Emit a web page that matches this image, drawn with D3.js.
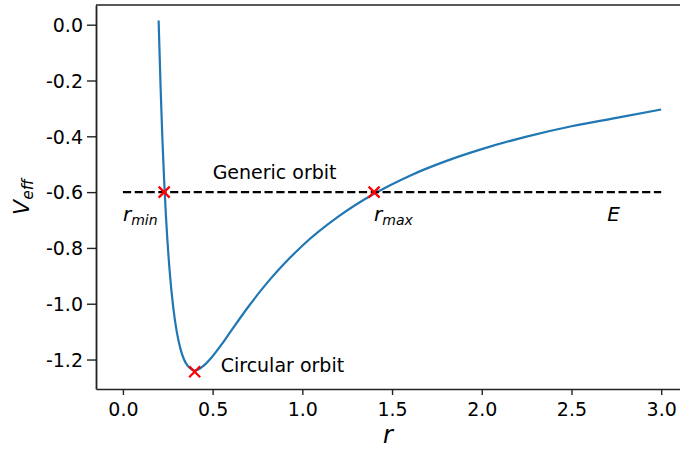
<!DOCTYPE html>
<html><head><meta charset="utf-8">
<script src="https://cdn.jsdelivr.net/npm/d3@7"></script>
<style>
html,body{margin:0;padding:0;background:#fff;}
svg{display:block;font-family:"DejaVu Sans",sans-serif;}
</style></head>
<body><svg id="c" width="680" height="449"></svg>
<script>
// effective potential curve
const rValues = [0.199,0.21,0.22,0.23,0.24,0.26,0.28,0.30,0.32,0.34,0.36,0.38,0.40,0.42,0.45,0.50,0.55,0.60,0.70,0.80,0.90,1.00,1.20,1.40,1.60,1.80,2.00,2.25,2.50,2.75,3.00];
const vValues = [0.015,-0.224,-0.409,-0.561,-0.688,-0.879,-1.010,-1.100,-1.160,-1.199,-1.222,-1.234,-1.240,-1.236,-1.222,-1.188,-1.146,-1.100,-1.010,-0.928,-0.856,-0.792,-0.688,-0.606,-0.541,-0.489,-0.446,-0.401,-0.364,-0.334,-0.304];
// energy level line
const energyR = [0.0, 3.0];
const energyV = [-0.6, -0.6];
// marked points
const markR = [0.23, 1.40, 0.40];
const markV = [-0.6, -0.6, -1.244];
// ticks
const xTicks = [0.0,0.5,1.0,1.5,2.0,2.5,3.0];
const xTickLabels = ["0.0","0.5","1.0","1.5","2.0","2.5","3.0"];
const yTicks = [0.0,-0.2,-0.4,-0.6,-0.8,-1.0,-1.2];
const yTickLabels = ["0.0","-0.2","-0.4","-0.6","-0.8","-1.0","-1.2"];

const svg = d3.select("#c");
const L = 96, R = 688.1, T = 5, B = 389;
const x = d3.scaleLinear().domain([-0.15, 3.15]).range([L, R]);
const y = d3.scaleLinear().domain([0.0706, -1.3056]).range([T, B]);

// curve
const pts = rValues.map((r,i)=>[r, vValues[i]]);
const line = d3.line().x(d=>x(d[0])).y(d=>y(d[1])).curve(d3.curveMonotoneX);
svg.append("path").attr("d", line(pts)).attr("fill","none")
  .attr("stroke","#1f77b4").attr("stroke-width",2.2);

// energy dashed line
svg.append("path").attr("d", d3.line().x(d=>x(d[0])).y(d=>y(d[1]))(energyR.map((r,i)=>[r,energyV[i]])))
  .attr("fill","none").attr("stroke","#000").attr("stroke-width",2.2)
  .attr("stroke-dasharray","8.2,3.6");

// markers
const ms = 5.5;
markR.forEach((r,i)=>{
  const cx = x(r), cy = y(markV[i]);
  svg.append("path").attr("d",`M${cx-ms},${cy-ms}L${cx+ms},${cy+ms}M${cx-ms},${cy+ms}L${cx+ms},${cy-ms}`)
    .attr("stroke","red").attr("stroke-width",2.2).attr("fill","none");
});

// axes
const ax = svg.append("g").attr("transform",`translate(0,${B})`)
  .call(d3.axisBottom(x).tickValues(xTicks).tickFormat((d,i)=>xTickLabels[i]).tickSizeInner(6).tickSizeOuter(0));
const ay = svg.append("g").attr("transform",`translate(${L},0)`)
  .call(d3.axisLeft(y).tickValues(yTicks).tickFormat((d,i)=>yTickLabels[i]).tickSizeInner(9).tickSizeOuter(0));
[ax,ay].forEach(g=>{
  g.selectAll("text").attr("font-family","DejaVu Sans").attr("font-size",19).attr("fill","#000");
  g.selectAll(".tick line").attr("stroke","#222").attr("stroke-width",1.4);
});
ax.select(".domain").attr("stroke","#222").attr("stroke-width",1.3);
ay.select(".domain").attr("stroke","#222").attr("stroke-width",1.8);
ax.selectAll("text").attr("y",27).attr("dy",0);
ay.selectAll("text").attr("x",-13).attr("dy","0.36em");
// top spine
svg.append("line").attr("x1",L).attr("x2",R).attr("y1",T).attr("y2",T)
  .attr("stroke","#222").attr("stroke-width",1.3);

// annotations
function txt(px,py,size){ return svg.append("text").attr("x",px).attr("y",py).attr("font-size",size).attr("fill","#000"); }
txt(x(0.5), y(-0.553), 19).text("Generic orbit");
txt(x(0.545), y(-1.245), 19).text("Circular orbit");
const rmin = txt(x(0.0), y(-0.705), 20);
rmin.append("tspan").attr("font-style","italic").text("r");
rmin.append("tspan").attr("font-style","italic").attr("font-size",14).attr("dy",4).text("min");
const rmax = txt(x(1.4), y(-0.705), 20);
rmax.append("tspan").attr("font-style","italic").text("r");
rmax.append("tspan").attr("font-style","italic").attr("font-size",14).attr("dy",4).text("max");
txt(x(2.7), y(-0.705), 20).attr("font-style","italic").text("E");

// axis labels
svg.append("text").attr("x",(L+R)/2 - 4).attr("y",443).attr("font-size",24)
  .attr("font-style","italic").attr("text-anchor","middle").text("r");
const yl = svg.append("text").attr("transform",`translate(29,${(T+B)/2}) rotate(-90)`)
  .attr("font-size",22).attr("font-style","italic").attr("text-anchor","middle");
yl.append("tspan").text("V");
yl.append("tspan").attr("font-size",15.5).attr("dy",4).text("eff");
</script></body></html>
